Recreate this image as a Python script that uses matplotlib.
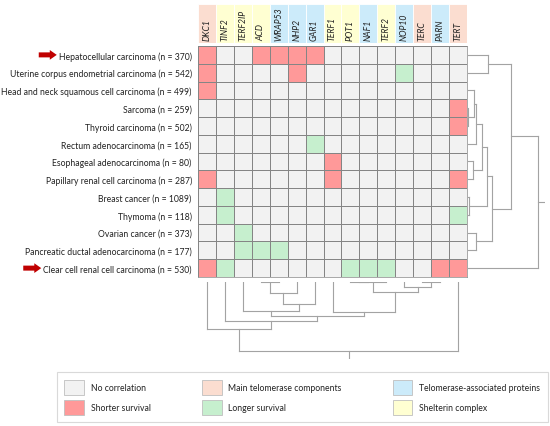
import numpy as np
import matplotlib
matplotlib.use("Agg")
import matplotlib.pyplot as plt
from matplotlib.colors import ListedColormap, BoundaryNorm
from matplotlib.patches import Patch
import matplotlib.transforms as mtransforms

plt.rcParams['font.family'] = ['Lato', 'DejaVu Sans']

# genes (columns) and their functional group
genes = ['DKC1', 'TINF2', 'TERF2IP', 'ACD', 'WRAP53', 'NHP2', 'GAR1', 'TERF1',
         'POT1', 'NAF1', 'TERF2', 'NOP10', 'TERC', 'PARN', 'TERT']
gene_group = ['main', 'shelterin', 'shelterin', 'shelterin', 'assoc', 'assoc', 'assoc',
              'shelterin', 'shelterin', 'assoc', 'shelterin', 'assoc', 'main', 'assoc', 'main']

# cancer types (rows)
cancers = ['Hepatocellular carcinoma (n = 370)',
           'Uterine corpus endometrial carcinoma (n = 542)',
           'Head and neck squamous cell carcinoma (n = 499)',
           'Sarcoma (n = 259)',
           'Thyroid carcinoma (n = 502)',
           'Rectum adenocarcinoma (n = 165)',
           'Esophageal adenocarcinoma (n = 80)',
           'Papillary renal cell carcinoma (n = 287)',
           'Breast cancer (n = 1089)',
           'Thymoma (n = 118)',
           'Ovarian cancer (n = 373)',
           'Pancreatic ductal adenocarcinoma (n = 177)',
           'Clear cell renal cell carcinoma (n = 530)']
highlighted = [0, 12]

# 0 = no correlation, 1 = shorter survival, 2 = longer survival
survival = [
    [1, 0, 0, 1, 1, 1, 1, 0, 0, 0, 0, 0, 0, 0, 0],
    [1, 0, 0, 0, 0, 1, 0, 0, 0, 0, 0, 2, 0, 0, 0],
    [1, 0, 0, 0, 0, 0, 0, 0, 0, 0, 0, 0, 0, 0, 0],
    [0, 0, 0, 0, 0, 0, 0, 0, 0, 0, 0, 0, 0, 0, 1],
    [0, 0, 0, 0, 0, 0, 0, 0, 0, 0, 0, 0, 0, 0, 1],
    [0, 0, 0, 0, 0, 0, 2, 0, 0, 0, 0, 0, 0, 0, 0],
    [0, 0, 0, 0, 0, 0, 0, 1, 0, 0, 0, 0, 0, 0, 0],
    [1, 0, 0, 0, 0, 0, 0, 1, 0, 0, 0, 0, 0, 0, 1],
    [0, 2, 0, 0, 0, 0, 0, 0, 0, 0, 0, 0, 0, 0, 0],
    [0, 2, 0, 0, 0, 0, 0, 0, 0, 0, 0, 0, 0, 0, 2],
    [0, 0, 2, 0, 0, 0, 0, 0, 0, 0, 0, 0, 0, 0, 0],
    [0, 0, 2, 2, 2, 0, 0, 0, 0, 0, 0, 0, 0, 0, 0],
    [1, 2, 0, 0, 0, 0, 0, 0, 2, 2, 2, 0, 0, 1, 1],
]

# dendrogram merges: (child a, child b, height); new ids start at n
col_merges = [(3, 4, 0.0), (8, 9, 0.0), (16, 10, 0.0), (12, 13, 0.7), (11, 18, 5.6),
              (17, 19, 10.6), (15, 5, 11.3), (21, 6, 22.3), (2, 22, 29.0), (7, 20, 30.0),
              (23, 24, 34.0), (1, 25, 39.6), (0, 26, 47.3), (27, 14, 69.0)]
row_merges = [(3, 4, 0.0), (2, 13, 6.6), (14, 5, 8.6), (6, 7, 5.6), (15, 16, 14.0),
              (8, 9, 1.6), (17, 18, 19.0), (10, 11, 8.3), (19, 20, 24.0), (0, 1, 20.6),
              (22, 21, 43.3), (23, 12, 70.6)]
dendro_top = 77.0

status_colors = ['#F2F2F2', '#FF9999', '#C6EFCE']
status_labels = ['No correlation', 'Shorter survival', 'Longer survival']
group_colors = {'main': '#FBDDD0', 'assoc': '#CCEBFA', 'shelterin': '#FFFFD2'}
group_labels = {'main': 'Main telomerase components', 'assoc': 'Telomerase-associated proteins',
                'shelterin': 'Shelterin complex'}
line_col = '#A3A3A3'
fs = 6.2

W, H = 550, 427
fig = plt.figure(figsize=(W / 100, H / 100), dpi=100)


def rect(x0, y0, x1, y1):
    return [x0 / W, 1 - y1 / H, (x1 - x0) / W, (y1 - y0) / H]


# heatmap
data = np.array(survival)
nr, nc = data.shape
ax = fig.add_axes(rect(198, 47, 467, 278))
cmap = ListedColormap(status_colors)
norm = BoundaryNorm([-0.5, 0.5, 1.5, 2.5], cmap.N)
ax.pcolormesh(np.arange(nc + 1) - 0.5, np.arange(nr + 1) - 0.5, data, cmap=cmap, norm=norm,
              edgecolors='#858585', linewidth=0.5)
ax.set_xlim(-0.5, nc - 0.5)
ax.set_ylim(nr - 0.5, -0.5)
ax.set_xticks([])
ax.set_yticks(range(nr))
ax.set_yticklabels(cancers, fontsize=fs, color='#222222')
ax.tick_params(axis='y', length=0, pad=4.5)
for s in ax.spines.values():
    s.set_color('#858585')
    s.set_linewidth(0.5)

# column header boxes
axh = fig.add_axes(rect(198, 5, 467, 44))
axh.bar(range(nc), [1] * nc, width=1, color=[group_colors[g] for g in gene_group],
        edgecolor='white', linewidth=0.6)
axh.set_xlim(-0.5, nc - 0.5)
axh.set_ylim(0, 1)
axh.axis('off')
for i, g in enumerate(genes):
    axh.text(i, 0.08, g, rotation=90, ha='center', va='bottom', fontsize=fs,
             style='italic', color='#222222')


def draw_dendro(a, merges, n, horizontal):
    pos = {i: float(i) for i in range(n)}
    hgt = {i: 0.0 for i in range(n)}
    for k, (c1, c2, h) in enumerate(merges):
        for c in (c1, c2):
            if horizontal:
                a.plot([hgt[c], h], [pos[c], pos[c]], color=line_col, lw=0.8)
            else:
                a.plot([pos[c], pos[c]], [hgt[c], h], color=line_col, lw=0.8)
        if horizontal:
            a.plot([h, h], [pos[c1], pos[c2]], color=line_col, lw=0.8)
        else:
            a.plot([pos[c1], pos[c2]], [h, h], color=line_col, lw=0.8)
        pos[n + k] = (pos[c1] + pos[c2]) / 2
        hgt[n + k] = h
    root = n + len(merges) - 1
    if horizontal:
        a.plot([hgt[root], dendro_top], [pos[root]] * 2, color=line_col, lw=0.8)
    else:
        a.plot([pos[root]] * 2, [hgt[root], dendro_top], color=line_col, lw=0.8)


# column dendrogram (bottom)
axb = fig.add_axes(rect(198, 282.7, 467, 282.7 + dendro_top))
draw_dendro(axb, col_merges, nc, horizontal=False)
axb.set_xlim(-0.5, nc - 0.5)
axb.set_ylim(dendro_top, 0)
axb.axis('off')

# row dendrogram (right)
axr = fig.add_axes(rect(467.5, 47, 467.5 + dendro_top, 278))
draw_dendro(axr, row_merges, nr, horizontal=True)
axr.set_ylim(nr - 0.5, -0.5)
axr.set_xlim(0, dendro_top)
axr.axis('off')

# legend
handles = [Patch(facecolor=status_colors[0], edgecolor='#BFBFBF', lw=0.6, label=status_labels[0]),
           Patch(facecolor=status_colors[1], edgecolor='#BFBFBF', lw=0.6, label=status_labels[1]),
           Patch(facecolor=group_colors['main'], edgecolor='#BFBFBF', lw=0.6, label=group_labels['main']),
           Patch(facecolor=status_colors[2], edgecolor='#BFBFBF', lw=0.6, label=status_labels[2]),
           Patch(facecolor=group_colors['assoc'], edgecolor='#BFBFBF', lw=0.6, label=group_labels['assoc']),
           Patch(facecolor=group_colors['shelterin'], edgecolor='#BFBFBF', lw=0.6, label=group_labels['shelterin'])]
leg = fig.legend(handles=handles, loc='lower left', bbox_to_anchor=(57 / W, 1 - 423 / H),
                 ncol=3, fontsize=fs, frameon=True, fancybox=False, borderaxespad=0,
                 handlelength=2.3, handleheight=2.3, handletextpad=0.8, labelspacing=0.6,
                 borderpad=0.85, columnspacing=5.9)
leg.get_frame().set_edgecolor('#D0D0D0')
leg.get_frame().set_linewidth(0.8)
for t in leg.get_texts():
    t.set_color('#222222')

# arrows just left of the highlighted row labels
fig.canvas.draw()
renderer = fig.canvas.get_renderer()
trans = mtransforms.blended_transform_factory(fig.transFigure, ax.transData)
for r in highlighted:
    x_end = ax.get_yticklabels()[r].get_window_extent(renderer).x0 - 2
    ax.annotate('', xy=(x_end / W, r), xytext=((x_end - 18) / W, r), xycoords=trans, textcoords=trans,
                arrowprops=dict(arrowstyle='simple,head_length=0.5,head_width=0.7,tail_width=0.36',
                                color='#C00000', lw=0, shrinkA=0, shrinkB=0),
                annotation_clip=False)

fig.savefig('out.png', dpi=100)
